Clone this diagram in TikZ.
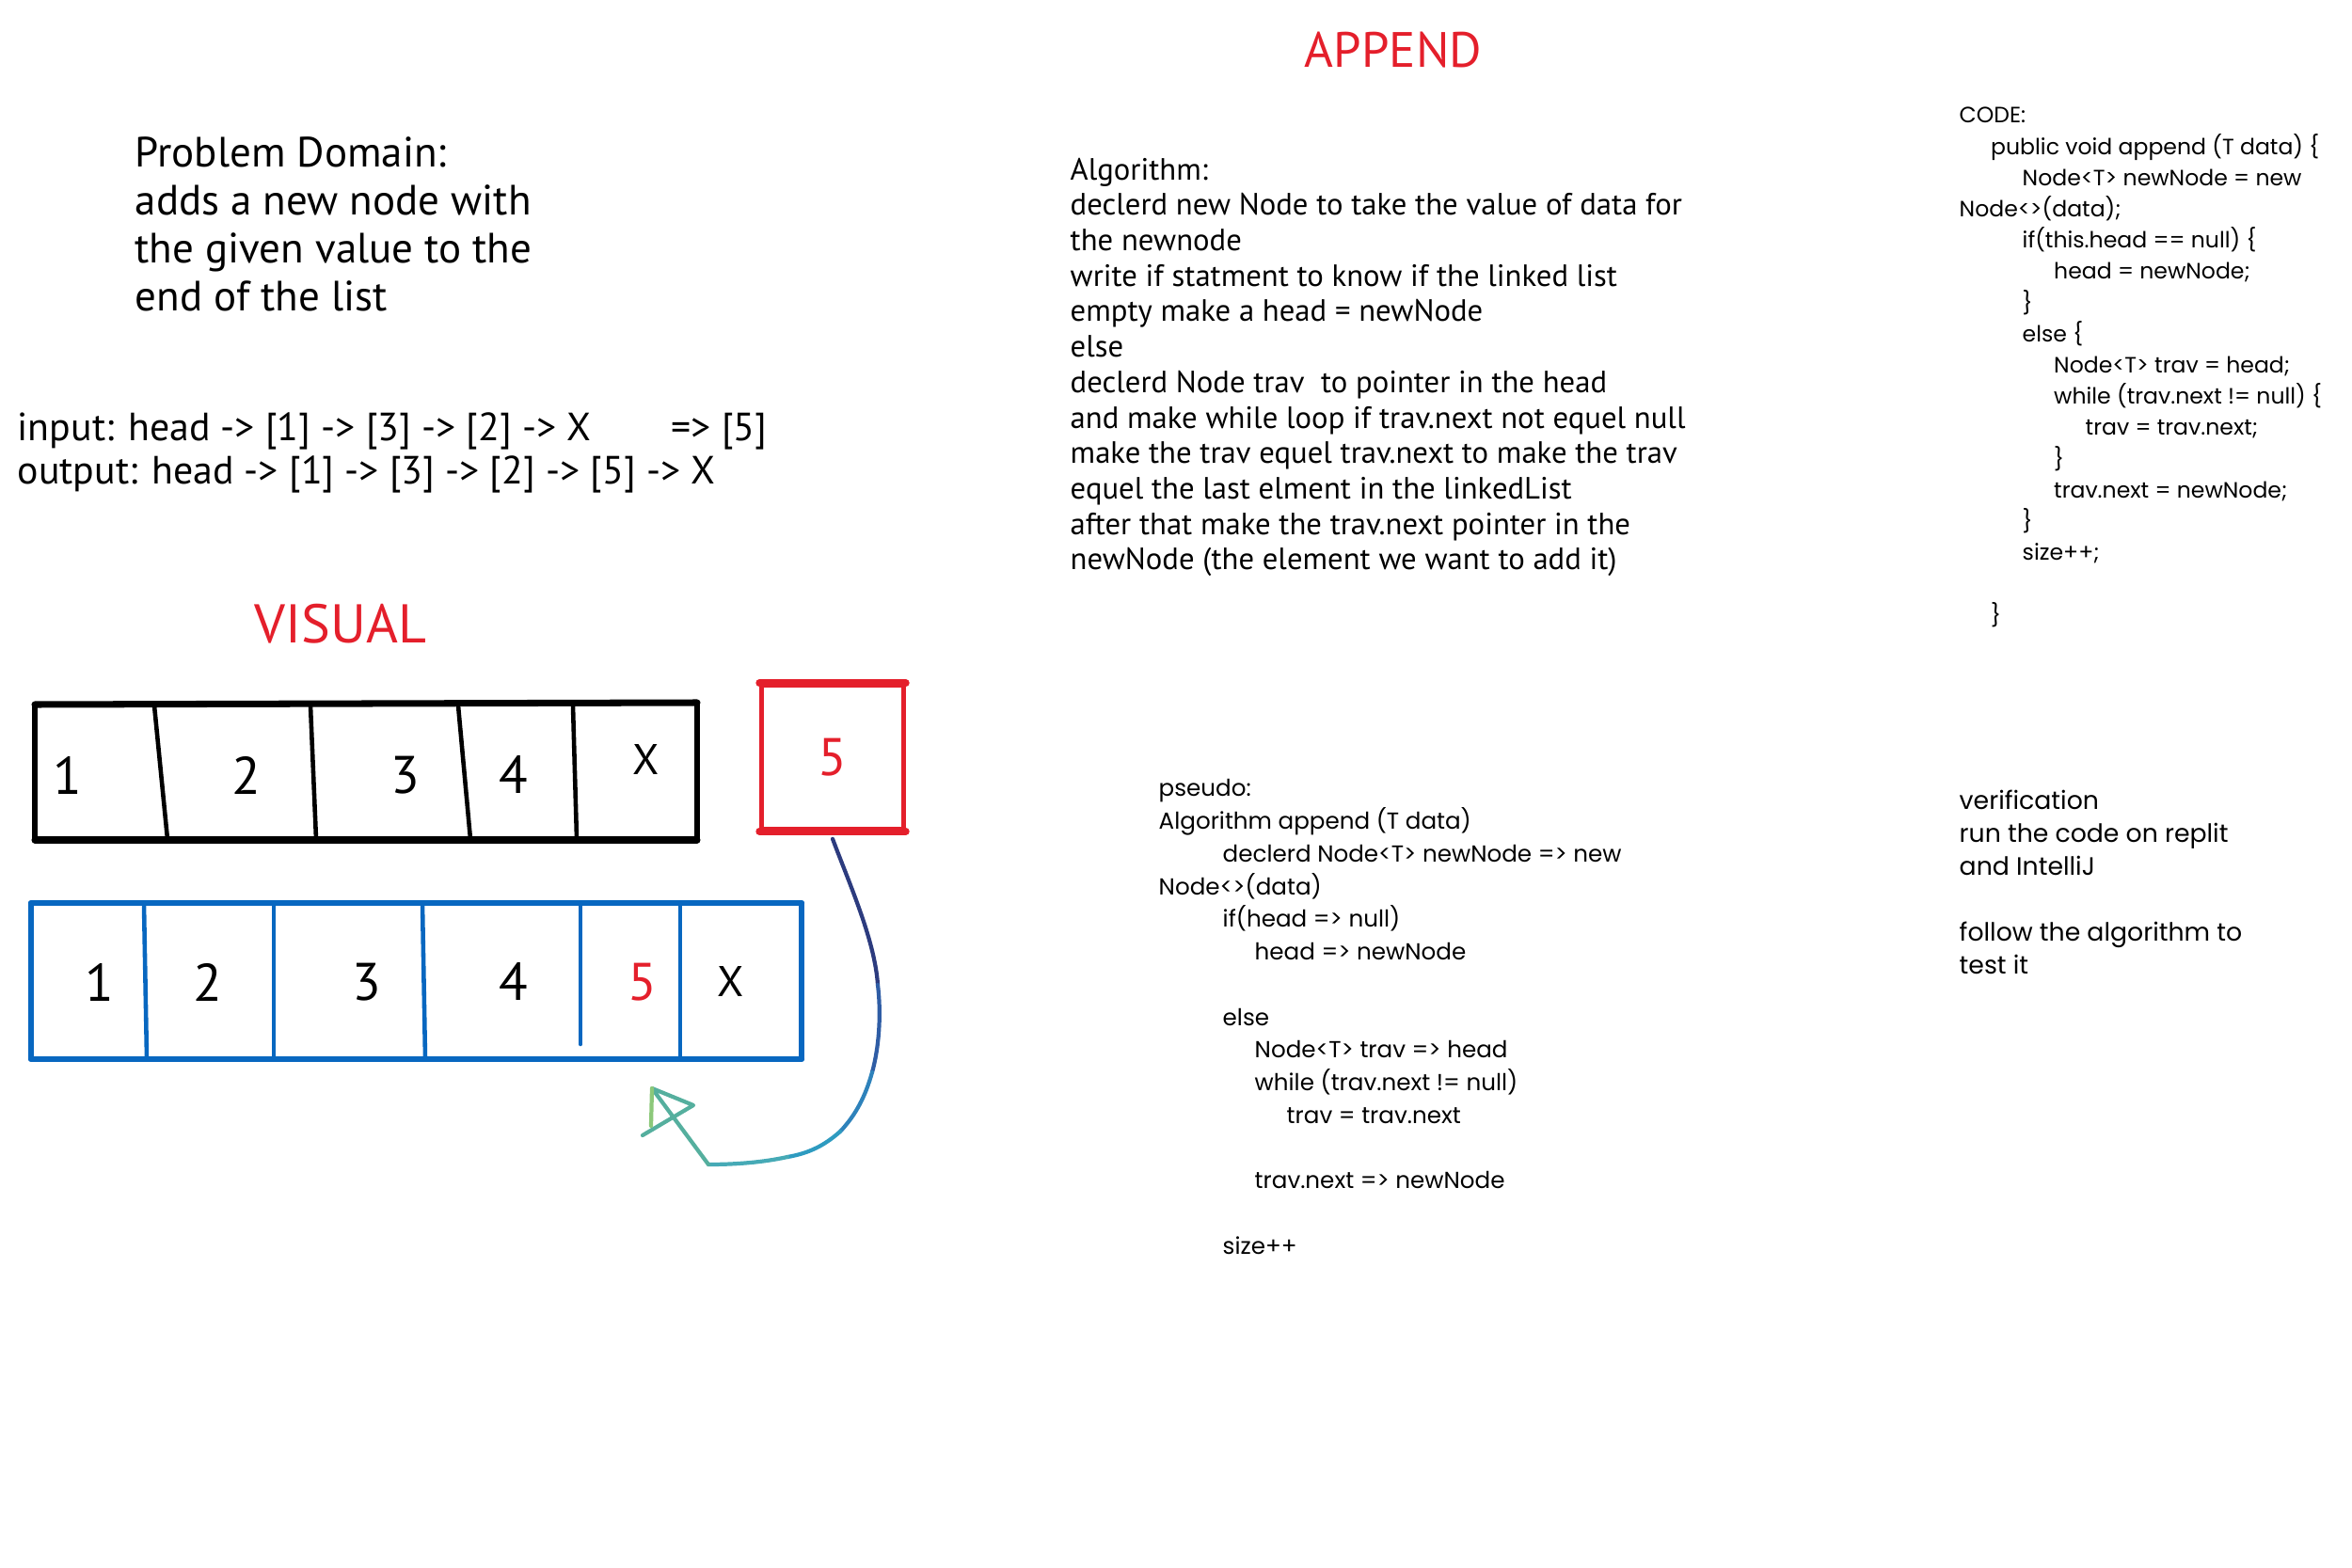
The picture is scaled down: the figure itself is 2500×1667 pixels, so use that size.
\documentclass[tikz,border=0pt]{standalone}
\usepackage{fontspec}
\setmainfont{PT Sans}
\newfontfamily\codefont{Poppins}
\definecolor{penred}{HTML}{E41F2B}
\definecolor{penblue}{HTML}{0867C0}
\definecolor{arrowA}{HTML}{2C3B7E}
\definecolor{arrowB}{HTML}{2F5DA5}
\definecolor{arrowC}{HTML}{2E82BB}
\definecolor{arrowD}{HTML}{2E9BC0}
\definecolor{arrowE}{HTML}{46AAB6}
\definecolor{arrowF}{HTML}{55AF9E}
\definecolor{arrowG}{HTML}{8CC87A}
\tikzset{
  title/.style={text=penred, font=\fontsize{15}{15}\selectfont},
  notes/.style={anchor=mid west, inner sep=0pt},
  cell/.style={font=\fontsize{16}{16}\selectfont},
  nil/.style={font=\fontsize{13}{13}\selectfont},
  curve/.style={line width=1.2pt, line cap=round}
}

\begin{document}
\begin{tikzpicture}[x=0.01cm,y=-0.01cm]
  \useasboundingbox (0,0) rectangle (2500,1667);

  %titles
  \node[title] (append) at (1481,53) {APPEND};
  \node[title, font=\fontsize{16.5}{16.5}\selectfont] (visual) at (362,663) {VISUAL};

  %problem domain
  {\fontsize{12.8}{14}\selectfont
  \foreach \t [count=\n from 0] in {Problem Domain:, adds a new node with, the given value to the, end of the list}
  {
    \node[notes] (prob\n) at (143,166+51*\n) {\t};
  }
  }
  {\fontsize{11.9}{13}\selectfont
  \node[notes] (input) at (18,458) {input: head -> [1] -> [3] -> [2] -> X};
  \node[notes] (inputnew) at (713,458) {=> [5]};
  \node[notes] (output) at (18,504) {output: head -> [1] -> [3] -> [2] -> [5] -> X};
  }

  %algorithm
  {\fontsize{9.3}{10}\selectfont
  \foreach \t [count=\n from 0] in {Algorithm:,
    declerd new Node to take the value of data for,
    the newnode,
    write if statment to know if the linked list,
    empty make a head = newNode,
    else,
    declerd Node trav \ to pointer in the head,
    and make while loop if trav.next not equel null,
    make the trav equel trav.next to make the trav,
    equel the last elment in the linkedList,
    after that make the trav.next pointer in the,
    newNode (the element we want to add it)}
  {
    \node[notes] (alg\n) at (1137,183+37.7*\n) {\t};
  }
  }

  %code
  {\codefont\fontsize{6.7}{8}\selectfont
  \foreach \n/\d/\t in {0/0/CODE:,
    1/1/public void append (T data) \{,
    2/2/Node<T> newNode = new,
    3/0/Node<>(data);,
    4/2/if(this.head == null) \{,
    5/3/head = newNode;,
    6/2/\},
    7/2/else \{,
    8/3/Node<T> trav = head;,
    9/3/while (trav.next != null) \{,
    10/4/trav = trav.next;,
    11/3/\},
    12/3/trav.next = newNode;,
    13/2/\},
    14/2/size++;,
    16/1/\}}
  {
    \node[notes] (code\n) at (2082+33.5*\d,124.4+33.2*\n) {\t};
  }
  }

  %pseudo
  {\codefont\fontsize{7}{9}\selectfont
  \foreach \n/\d/\t in {0/0/pseudo:,
    1/0/Algorithm append (T data),
    2/2/declerd Node<T> newNode => new,
    3/0/Node<>(data),
    4/2/if(head => null),
    5/3/head => newNode,
    7/2/else,
    8/3/Node<T> trav => head,
    9/3/while (trav.next != null),
    10/4/trav = trav.next,
    12/3/trav.next => newNode,
    14/2/size++}
  {
    \node[notes] (pseudo\n) at (1231+34*\d,840+34.75*\n) {\t};
  }
  }

  %verification
  {\codefont\fontsize{7.6}{9}\selectfont
  \foreach \n/\t in {0/verification, 1/run the code on replit, 2/and IntelliJ,
    4/follow the algorithm to, 5/test it}
  {
    \node[notes] (check\n) at (2082,853+35*\n) {\t};
  }
  }

  %old list
  \draw[line width=2pt, line cap=round] (37,749) -- (741,747);
  \draw[line width=2pt, line cap=round] (37,893) -- (741,893);
  \draw[line width=1.6pt, line cap=round] (37,749) -- (37,893);
  \draw[line width=1.6pt, line cap=round] (741,747) -- (741,893);
  \foreach \a/\b in {164/178, 330/336, 487/500, 609/613}
  {
    \draw[line width=1.3pt] (\a,750) -- (\b,892);
  }
  \node[cell] (old1) at (72,824) {1};
  \node[cell] (old2) at (262,824) {2};
  \node[cell] (old3) at (431,824) {3};
  \node[cell] (old4) at (546,823) {4};
  \node[nil] (oldx) at (687,807) {X};

  %new node
  \node[draw=penred, line width=1.3pt, minimum width=1.51cm, minimum height=1.53cm,
    cell, text=penred] (new) at (885,805) {5};
  \draw[penred, line width=2.2pt, line cap=round] (new.north west) -- (new.north east);
  \draw[penred, line width=2.2pt, line cap=round] (new.south west) -- (new.south east);

  %new list
  \draw[penblue, line width=1.8pt, line cap=round] (33,960) -- (852,960);
  \draw[penblue, line width=1.8pt, line cap=round] (33,1126) -- (852,1126);
  \draw[penblue, line width=1.5pt, line cap=round] (33,960) -- (33,1126);
  \draw[penblue, line width=1.5pt, line cap=round] (852,960) -- (852,1126);
  \foreach \a/\b in {153/156, 291/291, 449/452, 723/723}
  {
    \draw[penblue, line width=1.3pt] (\a,961) -- (\b,1125);
  }
  \draw[penblue, line width=1.3pt, line cap=round] (617,961) -- (617,1110);
  \node[cell] (lst1) at (106,1044) {1};
  \node[cell] (lst2) at (221,1044) {2};
  \node[cell] (lst3) at (390,1044) {3};
  \node[cell] (lst4) at (546,1043) {4};
  \node[cell, text=penred] (lst5) at (683,1044) {5};
  \node[nil] (lstx) at (777,1043) {X};

  %arrow
  \coordinate (tip) at (693,1157);
  \draw[curve, arrowA] ([yshift=-0.08cm]new.south) .. controls (903,940) and (930,1000) .. (933,1047) coordinate (c1);
  \draw[curve, arrowB] (c1) .. controls (937,1080) and (934,1115) .. (927,1140) coordinate (c2);
  \draw[curve, arrowC] (c2) .. controls (920,1165) and (910,1185) .. (893,1203) coordinate (c3);
  \draw[curve, arrowD] (c3) .. controls (876,1218) and (860,1226) .. (837,1230) coordinate (c4);
  \draw[curve, arrowE] (c4) .. controls (810,1236) and (780,1238) .. (753,1238) coordinate (c5);
  \draw[curve, arrowF, line join=round] (c5) -- (tip) -- (737,1175) -- (683,1207);
  \draw[curve, arrowG] (tip) -- (692,1197);
\end{tikzpicture}
\end{document}
